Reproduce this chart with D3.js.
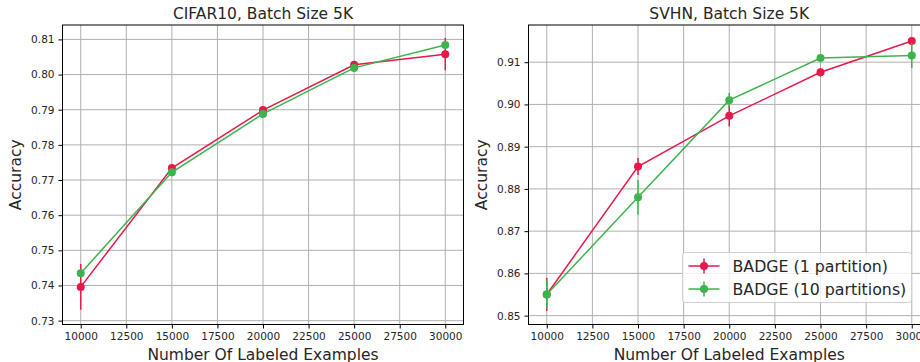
<!DOCTYPE html>
<html>
<head>
<meta charset="utf-8">
<script src="https://cdn.jsdelivr.net/npm/d3@7/dist/d3.min.js"></script>
<style>
  html, body { margin: 0; padding: 0; background: #fff; overflow: hidden; }
  svg { display: block; }
  text { font-family: "DejaVu Sans", sans-serif; fill: #262626; }
</style>
</head>
<body>
<div id="chart"></div>
<script>
// labeled-set sizes (shared by both panels)
const xValues = [10000, 15000, 20000, 25000, 30000];
const xTicks = [10000, 12500, 15000, 17500, 20000, 22500, 25000, 27500, 30000];

const seriesNames = ["BADGE (1 partition)", "BADGE (10 partitions)"];
const seriesColors = ["#e6194b", "#3cb44b"];

// CIFAR10 panel
const cifarOne = [0.7396, 0.7734, 0.7899, 0.8028, 0.8058];
const cifarOneErr = [0.0065, 0.0008, 0.0006, 0.0005, 0.0046];
const cifarTen = [0.7435, 0.7722, 0.7888, 0.8019, 0.8084];
const cifarTenErr = [0.0006, 0.0005, 0.0005, 0.0004, 0.0005];
const cifarYTicks = [0.73, 0.74, 0.75, 0.76, 0.77, 0.78, 0.79, 0.80, 0.81];

// SVHN panel
const svhnOne = [0.8550, 0.8853, 0.8973, 0.9076, 0.9150];
const svhnOneErr = [0.0039, 0.0020, 0.0025, 0.0010, 0.0005];
const svhnTen = [0.8550, 0.8780, 0.9010, 0.9110, 0.9116];
const svhnTenErr = [0.0033, 0.0041, 0.0017, 0.0006, 0.0030];
const svhnYTicks = [0.85, 0.86, 0.87, 0.88, 0.89, 0.90, 0.91];

const W = 920, H = 362;

const panels = [
  {
    title: "CIFAR10, Batch Size 5K",
    box: { left: 62.5, right: 463.5, top: 25, bottom: 324.5 },
    yDomain: [0.7289, 0.8141],
    yTicks: cifarYTicks,
    series: [[cifarOne, cifarOneErr], [cifarTen, cifarTenErr]],
    legend: false
  },
  {
    title: "SVHN, Batch Size 5K",
    box: { left: 528.5, right: 930, top: 25, bottom: 324.5 },
    yDomain: [0.8479, 0.9188],
    yTicks: svhnYTicks,
    series: [[svhnOne, svhnOneErr], [svhnTen, svhnTenErr]],
    legend: true
  }
];

const svg = d3.select("#chart").append("svg")
  .attr("width", W)
  .attr("height", H);

panels.forEach((p, pi) => {
  const b = p.box;
  const x = d3.scaleLinear().domain([9000, 31000]).range([b.left, b.right]);
  const y = d3.scaleLinear().domain(p.yDomain).range([b.bottom, b.top]);

  const g = svg.append("g").attr("class", "panel-" + pi);

  // grid
  g.append("g").selectAll("line.vg")
    .data(xTicks)
    .enter().append("line")
    .attr("x1", d => x(d)).attr("x2", d => x(d))
    .attr("y1", b.top).attr("y2", b.bottom)
    .attr("stroke", "#b0b0b0").attr("stroke-width", 1);
  g.append("g").selectAll("line.hg")
    .data(p.yTicks)
    .enter().append("line")
    .attr("x1", b.left).attr("x2", b.right)
    .attr("y1", d => y(d)).attr("y2", d => y(d))
    .attr("stroke", "#b0b0b0").attr("stroke-width", 1);

  // axes
  const xAxis = g.append("g")
    .attr("transform", `translate(0,${b.bottom})`)
    .call(d3.axisBottom(x).tickValues(xTicks).tickSize(4).tickPadding(4).tickFormat(d3.format("d")));
  const yAxis = g.append("g")
    .attr("transform", `translate(${b.left},0)`)
    .call(d3.axisLeft(y).tickValues(p.yTicks).tickSize(4).tickPadding(4).tickFormat(d3.format(".2f")));
  [xAxis, yAxis].forEach(a => {
    a.select(".domain").remove();
    a.selectAll(".tick line").attr("stroke", "#000").attr("stroke-width", 1);
    a.selectAll(".tick text")
      .style("font-family", "DejaVu Sans, sans-serif")
      .style("font-size", "10.5px")
      .attr("fill", "#262626");
  });

  // series: lines, error bars, markers
  p.series.forEach(([vals, errs], si) => {
    const col = seriesColors[si];
    const pts = xValues.map((xv, i) => ({ x: xv, y: vals[i], e: errs[i] }));
    g.append("path")
      .datum(pts)
      .attr("fill", "none")
      .attr("stroke", col)
      .attr("stroke-width", 1.5)
      .attr("d", d3.line().x(d => x(d.x)).y(d => y(d.y)));
    g.append("g").selectAll("line")
      .data(pts)
      .enter().append("line")
      .attr("x1", d => x(d.x)).attr("x2", d => x(d.x))
      .attr("y1", d => y(d.y - d.e)).attr("y2", d => y(d.y + d.e))
      .attr("stroke", col).attr("stroke-width", 1.5);
    g.append("g").selectAll("circle")
      .data(pts)
      .enter().append("circle")
      .attr("cx", d => x(d.x)).attr("cy", d => y(d.y))
      .attr("r", 4)
      .attr("fill", col);
  });

  // frame
  g.append("rect")
    .attr("x", b.left).attr("y", b.top)
    .attr("width", b.right - b.left).attr("height", b.bottom - b.top)
    .attr("fill", "none").attr("stroke", "#000").attr("stroke-width", 1);

  // titles
  const cx = (b.left + b.right) / 2;
  g.append("text")
    .attr("x", cx).attr("y", 18.5)
    .attr("text-anchor", "middle")
    .style("font-size", "15.5px")
    .text(p.title);
  g.append("text")
    .attr("x", cx).attr("y", b.bottom + 35)
    .attr("text-anchor", "middle")
    .style("font-size", "15.5px")
    .text("Number Of Labeled Examples");
  const yl = (b.top + b.bottom) / 2;
  g.append("text")
    .attr("transform", `translate(${b.left - 42},${yl}) rotate(-90)`)
    .attr("text-anchor", "middle")
    .style("font-size", "15.5px")
    .text("Accuracy");

  if (p.legend) {
    const lg = g.append("g").attr("transform", "translate(682.5,252.5)");
    lg.append("rect")
      .attr("width", 229).attr("height", 50)
      .attr("rx", 3)
      .attr("fill", "#fff").attr("fill-opacity", 0.8)
      .attr("stroke", "#d0d0d0").attr("stroke-width", 1);
    seriesNames.forEach((name, si) => {
      const row = lg.append("g").attr("transform", `translate(0,${13.5 + si * 23})`);
      row.append("line").attr("x1", 6).attr("x2", 37).attr("y1", 0).attr("y2", 0)
        .attr("stroke", seriesColors[si]).attr("stroke-width", 1.5);
      row.append("line").attr("x1", 21.5).attr("x2", 21.5).attr("y1", -7.5).attr("y2", 7.5)
        .attr("stroke", seriesColors[si]).attr("stroke-width", 1.5);
      row.append("circle").attr("cx", 21.5).attr("cy", 0).attr("r", 4)
        .attr("fill", seriesColors[si]);
      row.append("text").attr("x", 50).attr("y", 5.5)
        .style("font-size", "15.8px")
        .text(name);
    });
  }
});
</script>
</body>
</html>
